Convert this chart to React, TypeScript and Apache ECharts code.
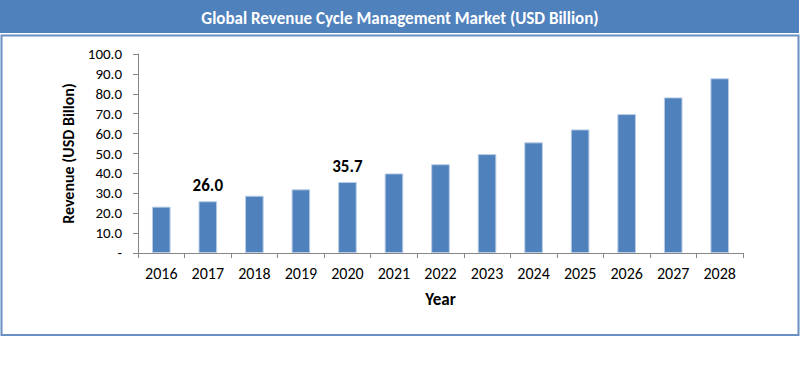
import React, { useEffect, useRef } from "react";
import * as echarts from "echarts";

const years = ["2016", "2017", "2018", "2019", "2020", "2021", "2022", "2023", "2024", "2025", "2026", "2027", "2028"];
const revenue = [23.3, 26.0, 28.8, 32.0, 35.7, 40.0, 44.6, 49.7, 55.6, 62.1, 69.8, 78.2, 87.8];
const labelledYears = ["2017", "2020"];
const yTicks = { min: 0, max: 100, interval: 10 };

const FONT = 'Carlito, "Liberation Sans Narrow", "Open Sans", sans-serif';

export default function App() {
  const ref = useRef<HTMLDivElement>(null);
  useEffect(() => {
    if (!ref.current) return;
    const chart = echarts.init(ref.current, null, { renderer: "svg" });
    chart.setOption({
      animation: false,
      backgroundColor: "#ffffff",
      textStyle: { fontFamily: FONT },
      graphic: [
        { type: "rect", shape: { x: 0, y: 0, width: 799, height: 33 }, style: { fill: "#4F81BD" }, z: -1 },
        { type: "rect", shape: { x: 1.5, y: 35.5, width: 797, height: 299.5 }, style: { fill: "none", stroke: "#6A8FC4", lineWidth: 2 }, z: -1 },
      ],
      title: {
        text: "Global Revenue Cycle Management Market (USD Billion)",
        left: "center",
        top: 5,
        textStyle: { color: "#ffffff", fontSize: 17, fontWeight: "bold", fontFamily: FONT },
      },
      grid: { left: 138, right: 57, top: 54, bottom: 123 },
      xAxis: {
        type: "category",
        data: years,
        name: "Year",
        nameLocation: "middle",
        nameGap: 38,
        nameTextStyle: { fontSize: 17, fontWeight: "bold", color: "#000", fontFamily: FONT },
        axisLine: { lineStyle: { color: "#868686", width: 1 } },
        axisTick: { show: true, length: 5, alignWithLabel: false, lineStyle: { color: "#868686" } },
        axisLabel: { fontSize: 16, color: "#000", margin: 12, fontFamily: FONT },
      },
      yAxis: {
        type: "value",
        min: yTicks.min,
        max: yTicks.max,
        interval: yTicks.interval,
        name: "Revenue (USD Billon)",
        nameLocation: "middle",
        nameGap: 62,
        nameRotate: 90,
        nameTextStyle: { fontSize: 16, fontWeight: "bold", color: "#000", fontFamily: FONT },
        axisLine: { show: true, lineStyle: { color: "#868686", width: 1 } },
        axisTick: { show: true, length: 5, lineStyle: { color: "#868686" } },
        splitLine: { show: false },
        axisLabel: {
          fontSize: 15,
          color: "#000",
          margin: 16,
          fontFamily: FONT,
          formatter: (v: number) => (v === 0 ? "-" : v.toFixed(1)),
        },
      },
      series: [
        {
          type: "bar",
          barWidth: "40%",
          data: revenue.map((v, i) => ({
            value: v,
            label: {
              show: labelledYears.includes(years[i]),
              position: "top",
              distance: 7,
              formatter: (p: any) => Number(p.value).toFixed(1),
              fontSize: 17,
              fontWeight: "bold",
              color: "#000",
              fontFamily: FONT,
            },
          })),
          itemStyle: { color: "#4F81BD", borderColor: "#B9CDE5", borderWidth: 1 },
        },
      ],
    });
    return () => chart.dispose();
  }, []);
  return <div ref={ref} style={{ position: "absolute", left: 0, top: 0, width: 800, height: 376 }} />;
}
